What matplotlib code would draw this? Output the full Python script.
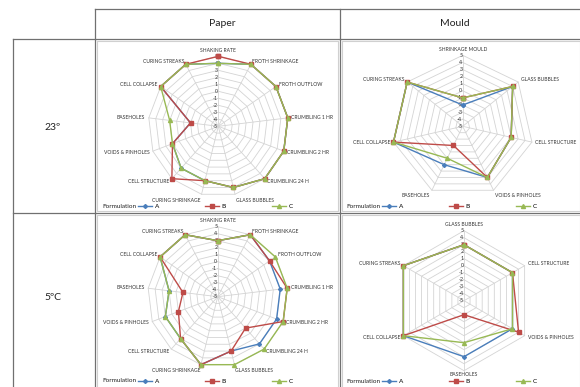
import numpy as np
import matplotlib
matplotlib.use('Agg')
import matplotlib.pyplot as plt

plt.rcParams['font.family'] = ['Lato', 'DejaVu Sans']

# ---- data ----
paper_cats = ['SHAKING RATE', 'FROTH SHRINKAGE', 'FROTH OUTFLOW', 'CRUMBLING 1 HR',
              'CRUMBLING 2 HR', 'CRUMBLING 24 H', 'GLASS BUBBLES', 'CURING SHRINKAGE',
              'CELL STRUCTURE', 'VOIDS & PINHOLES', 'BASEHOLES', 'CELL COLLAPSE',
              'CURING STREAKS']
paper23_A = [4, 5, 5, 5, 5, 5, 4, 3, 3, 2, -1, 5, 5]
paper23_B = [5, 5, 5, 5, 5, 5, 4, 3, 5, 2, -1, 5, 5]
paper23_C = [4, 5, 5, 5, 5, 5, 4, 3, 3, 2, 2, 5, 5]

paper5_A = [3, 5, 4, 4, 4, 4, 3, 5, 3, 3, 2, 5, 5]
paper5_B = [3, 5, 4, 5, 5, 1, 3, 5, 3, 1, 0, 5, 5]
paper5_C = [3, 5, 5, 5, 5, 5, 5, 5, 3, 3, 2, 5, 5]

mould23_cats = ['SHRINKAGE MOULD', 'GLASS BUBBLES', 'CELL STRUCTURE', 'VOIDS & PINHOLES',
                'BASEHOLES', 'CELL COLLAPSE', 'CURING STREAKS']
mould23_A = [-2, 4, 2, 3, 1, 5, 5]
mould23_B = [-1, 4, 2, 3, -2, 5, 5]
mould23_C = [-1, 4, 2, 3, 0, 5, 5]

mould5_cats = ['GLASS BUBBLES', 'CELL STRUCTURE', 'VOIDS & PINHOLES', 'BASEHOLES',
               'CELL COLLAPSE', 'CURING STREAKS']
mould5_A = [3, 3, 3, 3, 5, 5]
mould5_B = [3, 3, 4, -3, 5, 5]
mould5_C = [3, 3, 3, 1, 5, 5]

formulations = ['A', 'B', 'C']
colors = ['#4a7ebb', '#be4b48', '#98b954']
markers = ['D', 's', '^']
msizes = [2.0, 2.4, 2.9]
col_titles = ['Paper', 'Mould']
row_titles = ['23º', '5ºC']

W, H = 580, 387
fig = plt.figure(figsize=(W / 100, H / 100), dpi=100)
fig.patch.set_facecolor('white')

# background axes in pixel units for the table
bg = fig.add_axes([0, 0, 1, 1])
bg.set_xlim(0, W)
bg.set_ylim(H, 0)
bg.axis('off')
tc = '#707070'
bg.plot([95, W], [9, 9], color=tc, lw=0.9)
bg.plot([13, W], [39, 39], color=tc, lw=0.9)
bg.plot([13, W], [213, 213], color=tc, lw=0.9)
bg.plot([13, 13], [39, H], color=tc, lw=0.9)
bg.plot([95, 95], [9, H], color=tc, lw=0.9)
bg.plot([340, 340], [9, H], color=tc, lw=0.9)
# chart area borders
cb = '#d0d0d0'
for (x0, x1, y0, y1) in [(97, 338, 41, 211), (342, 580, 41, 211),
                         (97, 338, 215, 390), (342, 580, 215, 390)]:
    bg.plot([x0, x1, x1, x0, x0], [y0, y0, y1, y1, y0], color=cb, lw=0.8)

bg.text(222, 24, col_titles[0], ha='center', va='center', fontsize=7.5, color='#222222')
bg.text(455, 24, col_titles[1], ha='center', va='center', fontsize=7.5, color='#222222')
bg.text(53, 127, row_titles[0], ha='center', va='center', fontsize=7.5, color='#222222')
bg.text(53, 297, row_titles[1], ha='center', va='center', fontsize=7.5, color='#222222')


def radar(cx, cy, R, cats, series, leg_y, leg_x):
    ax = fig.add_axes([(cx - R) / W, (H - cy - R) / H, 2 * R / W, 2 * R / H],
                      projection='polar')
    ax.set_theta_zero_location('N')
    ax.set_theta_direction(-1)
    ax.set_ylim(-5, 5)
    ax.grid(False)
    ax.set_xticks([])
    ax.set_yticks([])
    ax.spines['polar'].set_visible(False)
    ax.patch.set_alpha(0)
    n = len(cats)
    th = np.arange(n) * 2 * np.pi / n
    thc = np.append(th, th[0])
    gc = '#d4d4d4'
    for v in range(-4, 6):
        ax.plot(thc, [v] * (n + 1), color=gc, lw=0.6, clip_on=False, zorder=1)
    for t in th:
        ax.plot([t, t], [-5, 5], color=gc, lw=0.6, clip_on=False, zorder=1)
    for v in range(-5, 6):
        ax.annotate(str(v), (0, v), xytext=(-0.3, 0), textcoords='offset points',
                    ha='right', va='center', fontsize=3.8, color='#333333')
    for t, c in zip(th, cats):
        s, co = np.sin(t), np.cos(t)
        ha = 'left' if s > 0.15 else ('right' if s < -0.15 else 'center')
        va = 'bottom' if co > 0.9 else ('top' if co < -0.85 else 'center')
        r = 5.25 if co < -0.99 else 5.5
        ax.text(t, r, c, ha=ha, va=va, fontsize=3.6, color='#333333', clip_on=False)
    lines = []
    for name, vals, col, mk, ms in zip(formulations, series, colors, markers, msizes):
        ln, = ax.plot(thc, list(vals) + [vals[0]], color=col, lw=1.0, marker=mk,
                      ms=ms, mec=col, mfc=col, clip_on=False, zorder=3, label=name)
        lines.append(ln)
    fig.text(leg_x / W, 1 - leg_y / H, 'Formulation', ha='left', va='center',
             fontsize=4.6, color='#222222')
    fig.legend(handles=lines, loc='center left',
               bbox_to_anchor=((leg_x + 36) / W, 1 - leg_y / H),
               ncol=3, frameon=False, fontsize=4.6, handlelength=2.2,
               handletextpad=0.4, columnspacing=7.2, borderpad=0, borderaxespad=0)
    return ax


radar(218.3, 126.3, 70, paper_cats, [paper23_A, paper23_B, paper23_C], 206, 102)
radar(462.7, 126.3, 71, mould23_cats, [mould23_A, mould23_B, mould23_C], 206, 346)
radar(217.7, 296.7, 70, paper_cats, [paper5_A, paper5_B, paper5_C], 381, 102)
radar(464, 300.7, 70, mould5_cats, [mould5_A, mould5_B, mould5_C], 381.5, 346)

fig.savefig('out.png', dpi=100)
